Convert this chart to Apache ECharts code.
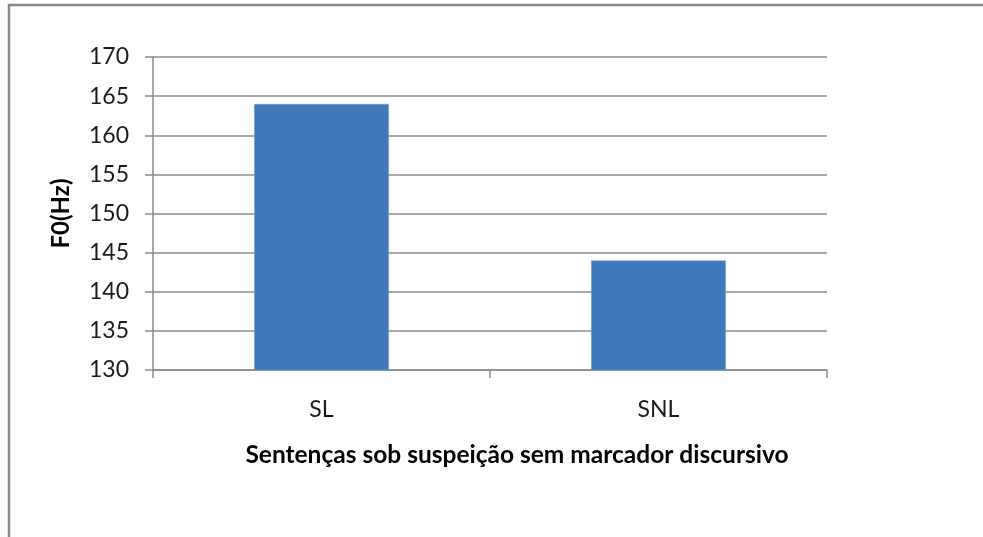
<!DOCTYPE html>
<html>
<head>
<meta charset="utf-8">
<script src="https://cdn.jsdelivr.net/npm/echarts@6/dist/echarts.min.js"></script>
<style>
  html, body { margin: 0; padding: 0; background: #ffffff; }
  #chart { width: 983px; height: 537px; }
</style>
</head>
<body>
<div id="chart"></div>
<script>
// F0 means per sentence type
const categories = ['SL', 'SNL'];
const f0Values = [164, 144];
const yTicks = { min: 130, max: 170, step: 5 };
const xTitle = 'Sentenças sob suspeição sem marcador discursivo';
const yTitle = 'F0(Hz)';

const FONT = 'Lato, "Open Sans", sans-serif';
const GRID_COLOR = '#8c8c8c';

const chart = echarts.init(document.getElementById('chart'), null, { renderer: 'canvas' });

chart.setOption({
  animation: false,
  backgroundColor: '#ffffff',
  graphic: [{
    type: 'rect',
    shape: { x: 9, y: 5, width: 1100, height: 700 },
    style: { fill: 'none', stroke: '#8a8a8a', lineWidth: 2.5 },
    silent: true
  }],
  grid: { left: 153, top: 57, right: 156, bottom: 167, containLabel: false },
  xAxis: {
    type: 'category',
    data: categories,
    name: xTitle,
    nameLocation: 'middle',
    nameGap: 73,
    nameTextStyle: {
      fontFamily: FONT, fontWeight: 'bold', fontSize: 24.5, color: '#000000',
      padding: [0, 0, 0, 54]
    },
    axisLine: { lineStyle: { color: GRID_COLOR, width: 1.5 } },
    axisTick: { show: true, alignWithLabel: false, length: 8, lineStyle: { color: GRID_COLOR, width: 1.5 } },
    axisLabel: { fontFamily: FONT, fontSize: 23, color: '#1a1a1a', margin: 28 }
  },
  yAxis: {
    type: 'value',
    min: yTicks.min,
    max: yTicks.max,
    interval: yTicks.step,
    name: yTitle,
    nameLocation: 'middle',
    nameGap: 80,
    nameRotate: 90,
    nameTextStyle: { fontFamily: FONT, fontWeight: 'bold', fontSize: 24, color: '#000000' },
    axisLine: { show: true, lineStyle: { color: GRID_COLOR, width: 1.5 } },
    axisTick: { show: true, length: 8, lineStyle: { color: GRID_COLOR, width: 1.5 } },
    axisLabel: { fontFamily: FONT, fontSize: 23, color: '#1a1a1a', margin: 24 },
    splitLine: { show: true, lineStyle: { color: GRID_COLOR, width: 1.5 } }
  },
  series: [{
    type: 'bar',
    data: f0Values,
    barWidth: '40%',
    itemStyle: { color: '#3f79bc', borderColor: '#7fa7d6', borderWidth: 0.5 }
  }]
});
</script>
</body>
</html>
